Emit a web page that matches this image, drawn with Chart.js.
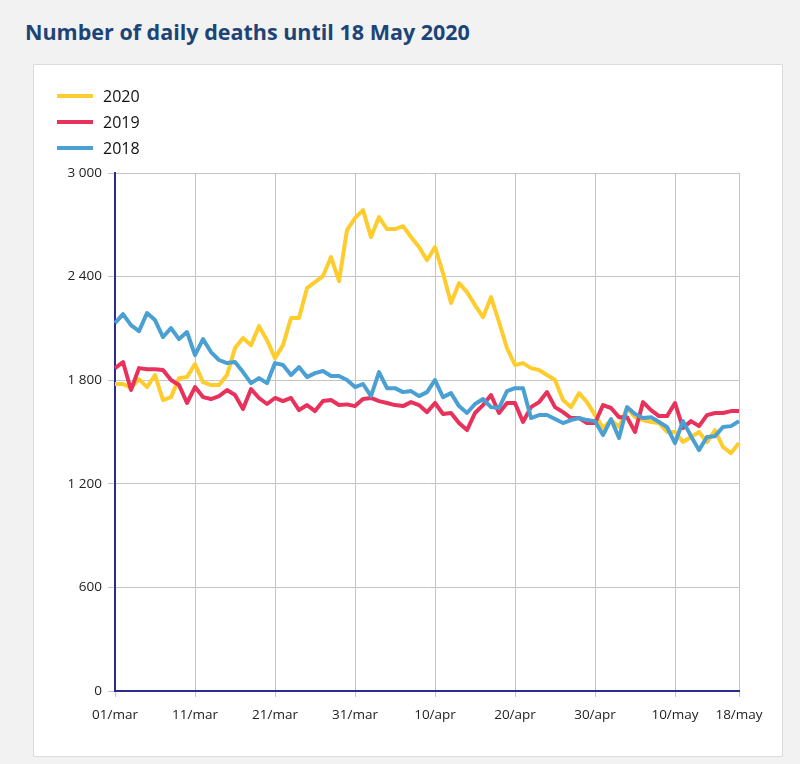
<!DOCTYPE html>
<html>
<head>
<meta charset="utf-8">
<script src="https://cdn.jsdelivr.net/npm/chart.js@4/dist/chart.umd.min.js"></script>
<style>
    body { margin: 0; background: #f2f2f2; font-family: "Open Sans", sans-serif; }
    #title { position: absolute; left: 25px; top: 17px; font-size: 21.5px; font-weight: 700; color: #1d4477; white-space: nowrap; }
    #card { position: absolute; left: 33px; top: 64px; width: 750px; height: 693px; box-sizing: border-box; background: #fff; border: 1px solid #dcdcdc; }
    #chartBox { position: absolute; left: 0; top: 0; width: 748px; height: 691px; }
    .legend-item { position: absolute; left: 23px; height: 20px; line-height: 20px; font-size: 16px; color: #111; }
    .legend-item span.line { position: absolute; left: 0; top: 8px; width: 36px; height: 4px; }
    .legend-item span.txt { position: absolute; left: 46px; top: 0; }
</style>
</head>
<body>
<div id="title">Number of daily deaths until 18 May 2020</div>
<div id="card">
    <div id="chartBox"><canvas id="myChart"></canvas></div>
    <div id="legend"></div>
</div>
<script>
// days, 01/mar .. 18/may
var categories = [
    "01/mar","02/mar","03/mar","04/mar","05/mar","06/mar","07/mar","08/mar","09/mar","10/mar",
    "11/mar","12/mar","13/mar","14/mar","15/mar","16/mar","17/mar","18/mar","19/mar","20/mar",
    "21/mar","22/mar","23/mar","24/mar","25/mar","26/mar","27/mar","28/mar","29/mar","30/mar",
    "31/mar","01/apr","02/apr","03/apr","04/apr","05/apr","06/apr","07/apr","08/apr","09/apr",
    "10/apr","11/apr","12/apr","13/apr","14/apr","15/apr","16/apr","17/apr","18/apr","19/apr",
    "20/apr","21/apr","22/apr","23/apr","24/apr","25/apr","26/apr","27/apr","28/apr","29/apr",
    "30/apr","01/may","02/may","03/may","04/may","05/may","06/may","07/may","08/may","09/may",
    "10/may","11/may","12/may","13/may","14/may","15/may","16/may","17/may","18/may"
];
var tickLabels = ["01/mar", "11/mar", "21/mar", "31/mar", "10/apr", "20/apr", "30/apr", "10/may", "18/may"];
var yTicks = [0, 600, 1200, 1800, 2400, 3000];

var deaths2020 = [
    1778, 1778, 1755, 1806, 1760, 1830, 1685, 1702, 1812, 1818, 1893, 1789, 1772, 1772, 1830,
    1986, 2044, 2003, 2113, 2032, 1928, 2003, 2160, 2160, 2333, 2368, 2403, 2513, 2374, 2669,
    2739, 2785, 2629, 2745, 2675, 2675, 2692, 2629, 2571, 2495, 2571, 2420, 2247, 2362,
    2310, 2235, 2165, 2281, 2137, 1986, 1888, 1899, 1870, 1859, 1830, 1801, 1685, 1644,
    1725, 1673, 1598, 1523, 1569, 1529, 1639, 1586, 1569, 1558, 1552, 1500, 1500, 1442, 1471,
    1500, 1442, 1511, 1413, 1378, 1436
];
var deaths2019 = [
    1870, 1905, 1743, 1870, 1864, 1864, 1859, 1801, 1772, 1668, 1760, 1702, 1691, 1708, 1743,
    1714, 1633, 1749, 1697, 1662, 1697, 1679, 1697, 1627, 1656, 1621, 1679, 1685, 1656, 1660,
    1650, 1691, 1697, 1679, 1668, 1656, 1650, 1673, 1656, 1615, 1668, 1604, 1610, 1552,
    1511, 1610, 1656, 1714, 1610, 1668, 1668, 1558, 1644, 1673, 1731, 1644, 1615, 1581,
    1581, 1552, 1552, 1656, 1639, 1586, 1586, 1500, 1673, 1627, 1592, 1592, 1668, 1523, 1563,
    1534, 1598, 1610, 1610, 1621, 1621
];
var deaths2018 = [
    2131, 2183, 2119, 2084, 2189, 2148, 2050, 2102, 2038, 2079, 1945, 2038, 1963, 1917, 1899,
    1905, 1847, 1783, 1812, 1783, 1899, 1888, 1830, 1876, 1818, 1841, 1853, 1824, 1824, 1801,
    1760, 1778, 1708, 1847, 1754, 1754, 1731, 1737, 1708, 1731, 1801, 1702, 1725, 1650,
    1610, 1662, 1691, 1644, 1639, 1737, 1754, 1754, 1581, 1598, 1598, 1575, 1552, 1569,
    1581, 1569, 1563, 1482, 1575, 1465, 1644, 1604, 1581, 1586, 1558, 1529, 1436, 1563, 1476,
    1395, 1471, 1476, 1529, 1534, 1563
];

var series = [
    { name: "2020", data: deaths2020, color: "#ffcc2e", order: 3 },
    { name: "2019", data: deaths2019, color: "#e8325c", order: 2 },
    { name: "2018", data: deaths2018, color: "#4ba0d3", order: 1 }
];

var axisColor = "#2b2b8f";
var gridColor = "#c4c4c4";

function fmt(v) {
    return String(v).replace(/\B(?=(\d{3})+(?!\d))/g, " ");
}

new Chart("myChart", {
    type: "line",
    data: {
        labels: categories,
        datasets: series.map(function (s) {
            return {
                label: s.name,
                data: s.data,
                borderColor: s.color,
                backgroundColor: s.color,
                borderWidth: 4,
                pointRadius: 0,
                tension: 0,
                borderJoinStyle: "round",
                order: s.order
            };
        })
    },
    options: {
        responsive: true,
        maintainAspectRatio: false,
        animation: false,
        layout: { padding: { top: 108, right: 43, left: 0, bottom: 0 } },
        plugins: { legend: { display: false }, tooltip: { enabled: false } },
        scales: {
            x: {
                afterFit: function (scale) { scale.height = 65; },
                border: { color: axisColor, width: 2 },
                grid: { color: gridColor, lineWidth: 1, tickLength: 6, tickColor: gridColor },
                ticks: {
                    autoSkip: false,
                    maxRotation: 0,
                    padding: 10,
                    color: "#222",
                    font: { family: "Open Sans", size: 13.5 },
                    callback: function (val) {
                        var lab = this.getLabelForValue(val);
                        return tickLabels.indexOf(lab) >= 0 ? lab : null;
                    }
                }
            },
            y: {
                min: 0,
                max: 3000,
                afterFit: function (scale) { scale.width = 81; },
                afterBuildTicks: function (scale) {
                    scale.ticks = yTicks.map(function (v) { return { value: v }; });
                },
                border: { color: axisColor, width: 2 },
                grid: { color: gridColor, lineWidth: 1, tickLength: 7, tickColor: gridColor },
                ticks: {
                    padding: 6,
                    color: "#222",
                    font: { family: "Open Sans", size: 13.5 },
                    callback: function (v) { return fmt(v); }
                }
            }
        }
    }
});

// legend
var lg = document.getElementById("legend");
series.forEach(function (s, i) {
    lg.innerHTML += `
        <div class="legend-item" style="top:${21 + i * 26}px">
            <span class="line" style="background:${s.color}"></span>
            <span class="txt">${s.name}</span>
        </div>`;
});
</script>
</body>
</html>
